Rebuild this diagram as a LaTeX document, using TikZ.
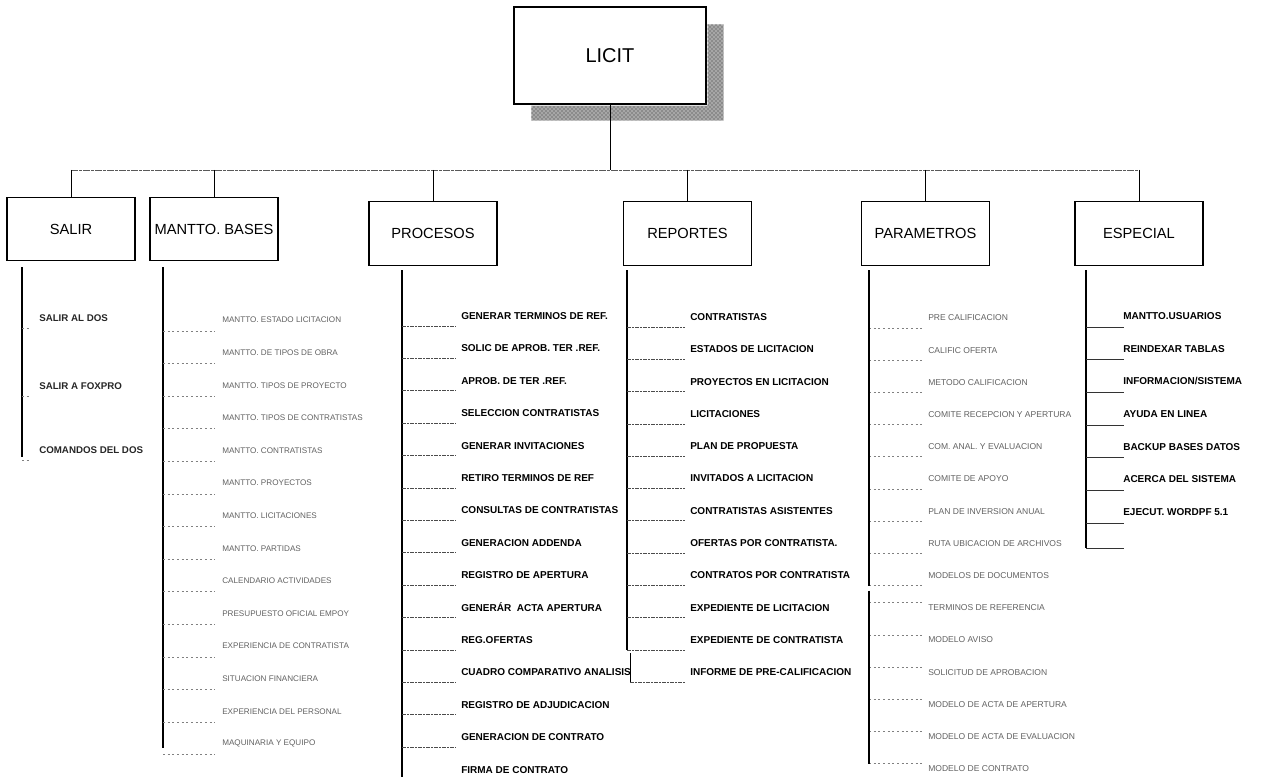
\documentclass[tikz,border=0pt]{standalone}
\usepackage{fontspec}
\setmainfont{Liberation Sans}
\usetikzlibrary{calc,patterns}
\begin{document}
\begin{tikzpicture}[x=0.75pt,y=-0.75pt,
  box/.style={draw, line width=1pt, minimum width=96pt, minimum height=47.5pt, inner sep=0pt, font=\fontsize{11}{13}\selectfont},
  conn/.style={line width=0.6pt},
  bus/.style={line width=0.5pt, black!65, dash pattern=on 5pt off 1pt on 2pt off 1pt},
  vline/.style={line width=0.8pt},
  tick/.style={line width=0.5pt, black!70, dash pattern=on 3pt off 1pt on 1pt off 1pt},
  ftick/.style={line width=0.5pt, black!50, dash pattern=on 1.5pt off 2pt},
  etick/.style={line width=0.5pt, black!80},
  item/.style={anchor=west, inner sep=0pt, font=\fontsize{7.5}{9}\selectfont\bfseries},
  fitem/.style={anchor=west, inner sep=0pt, text=black!62, font=\fontsize{6.1}{7.5}\selectfont},
  pitem/.style={anchor=west, inner sep=0pt, text=black!62, font=\fontsize{6.4}{7.5}\selectfont},
  sitem/.style={anchor=west, inner sep=0pt, text=black!85, font=\fontsize{7.3}{9}\selectfont\bfseries},
  shadowfill/.style={fill=black!35, postaction={pattern=crosshatch dots, pattern color=black!80}},
]
\useasboundingbox (0,0) rectangle (1262,777);

% root
\node[draw, line width=1pt, minimum width=144pt, minimum height=72.75pt, inner sep=0pt,
      font=\fontsize{15}{18}\selectfont] (licit) at (610,55.5) {LICIT};
\path[shadowfill]
  ($(licit.north east)+(1,18)$) -- ++(16,0) -- ($(licit.south east)+(17,16)$)
  -- ($(licit.south west)+(18,16)$) -- ($(licit.south west)+(18,1)$)
  -- ($(licit.south east)+(1,1)$) -- cycle;

% children
\node[box] (salir) at (71,229) {SALIR};
\node[box] (mantto) at (214,229) {MANTTO. BASES};
\node[box] (procesos) at (433,233.5) {PROCESOS};
\node[box] (reportes) at (687.5,233.5) {REPORTES};
\node[box] (parametros) at (925.5,233.5) {PARAMETROS};
\node[box] (especial) at (1139,233.5) {ESPECIAL};

\coordinate (bus) at (0,170);
\draw[conn] (licit.south) -- (licit.south |- bus);
\draw[bus] (salir.north |- bus) -- (especial.north |- bus);
\foreach \b in {salir,mantto,procesos,reportes,parametros,especial}
  \draw[conn] (\b.north |- bus) -- (\b.north);

% SALIR column
\coordinate (sv) at (22,267);
\coordinate (svend) at (22,457);
\draw[vline] (sv) -- (svend);
\foreach \t/\y [count=\i] in {SALIR AL DOS/318, SALIR A FOXPRO/386, COMANDOS DEL DOS/450} {
  \node[sitem] (s\i) at (39,\y) {\t};
  \coordinate (st\i) at ($(s\i.west)+(-9,10)$);
  \draw[ftick] (sv |- st\i) -- (st\i);
}

% MANTTO. BASES column
\coordinate (mv) at (163,267);
\coordinate (mvend) at (163,748);
\draw[vline] (mv) -- (mvend);
\foreach \t [count=\i] in {MANTTO. ESTADO LICITACION, MANTTO. DE TIPOS DE OBRA, MANTTO. TIPOS DE PROYECTO,
  MANTTO. TIPOS DE CONTRATISTAS, MANTTO. CONTRATISTAS, MANTTO. PROYECTOS, MANTTO. LICITACIONES,
  MANTTO. PARTIDAS, CALENDARIO ACTIVIDADES, PRESUPUESTO OFICIAL EMPOY, EXPERIENCIA DE CONTRATISTA,
  SITUACION FINANCIERA, EXPERIENCIA DEL PERSONAL, MAQUINARIA Y EQUIPO} {
  \node[fitem] (m\i) at (222,{320+(\i-1)*32.6}) {\t};
  \coordinate (mt\i) at ($(m\i.west)+(-7,11)$);
  \draw[ftick] (mv |- mt\i) -- (mt\i);
}

% PROCESOS column
\coordinate (pv) at (402,270);
\coordinate (pvend) at (402,777);
\draw[vline] (pv) -- (pvend);
\foreach \t [count=\i] in {GENERAR TERMINOS DE REF., SOLIC DE APROB. TER .REF., APROB. DE TER .REF.,
  SELECCION CONTRATISTAS, GENERAR INVITACIONES, RETIRO TERMINOS DE REF, CONSULTAS DE CONTRATISTAS,
  GENERACION ADDENDA, REGISTRO DE APERTURA, GENERÁR\ \ ACTA APERTURA, REG.OFERTAS,
  CUADRO COMPARATIVO ANALISIS, REGISTRO DE ADJUDICACION, GENERACION DE CONTRATO, FIRMA DE CONTRATO} {
  \node[item] (p\i) at (461,{316+(\i-1)*32.4}) {\t};
  \ifnum\i<15
    \coordinate (pt\i) at ($(p\i.west)+(-5,10)$);
    \draw[tick] (pv |- pt\i) -- (pt\i);
  \fi
}

% REPORTES column
\coordinate (rv) at (627,270);
\foreach \t [count=\i] in {CONTRATISTAS, ESTADOS DE LICITACION, PROYECTOS EN LICITACION, LICITACIONES,
  PLAN DE PROPUESTA, INVITADOS A LICITACION, CONTRATISTAS ASISTENTES, OFERTAS POR CONTRATISTA.,
  CONTRATOS POR CONTRATISTA, EXPEDIENTE DE LICITACION, EXPEDIENTE DE CONTRATISTA,
  INFORME DE PRE-CALIFICACION} {
  \node[item] (r\i) at (690,{317+(\i-1)*32.3}) {\t};
  \coordinate (rt\i) at ($(r\i.west)+(-5,10)$);
}
\draw[vline] (rv) -- (rv |- rt11);
\foreach \i in {1,...,11} \draw[tick] (rv |- rt\i) -- (rt\i);
\coordinate (rx) at ($(rv |- rt11)+(3,3)$);
\draw[conn] (rx) -- (rx |- rt12);
\draw[tick] (rx |- rt12) -- (rt12);

% PARAMETROS column
\coordinate (qv) at (869,270);
\foreach \t [count=\i] in {PRE CALIFICACION, CALIFIC OFERTA, METODO CALIFICACION, COMITE RECEPCION Y APERTURA,
  COM. ANAL. Y EVALUACION, COMITE DE APOYO, PLAN DE INVERSION ANUAL, RUTA UBICACION DE ARCHIVOS,
  MODELOS DE DOCUMENTOS, TERMINOS DE REFERENCIA, MODELO AVISO, SOLICITUD DE APROBACION,
  MODELO DE ACTA DE APERTURA, MODELO DE ACTA DE EVALUACION, MODELO DE CONTRATO} {
  \node[pitem] (q\i) at (928,{318+(\i-1)*32.2}) {\t};
  \pgfmathsetmacro{\off}{ifthenelse(\i<10,10,-5)}
  \coordinate (qt\i) at ($(q\i.west)+(-4,\off)$);
  \draw[ftick] (qv |- qt\i) -- (qt\i);
}
\draw[vline] (qv) -- (qv |- qt9);
\draw[vline] ($(qv |- qt9)+(0,5)$) -- (qv |- qt15);

% ESPECIAL column
\coordinate (ev) at (1086,270);
\coordinate (eend) at (1086,548);
\draw[vline] (ev) -- (eend);
\foreach \t [count=\i] in {MANTTO.USUARIOS, REINDEXAR TABLAS, {INFORMACION/SISTEMA}, AYUDA EN LINEA,
  BACKUP BASES DATOS, ACERCA DEL SISTEMA, EJECUT. WORDPF 5.1} {
  \node[item] (e\i) at (1123,{316+(\i-1)*32.7}) {\t};
  \coordinate (et\i) at ($(e\i.west)+(1,11)$);
  \draw[etick] (ev |- et\i) -- (et\i);
}
\draw[etick] (eend) -- (eend -| et1);
\end{tikzpicture}
\end{document}
